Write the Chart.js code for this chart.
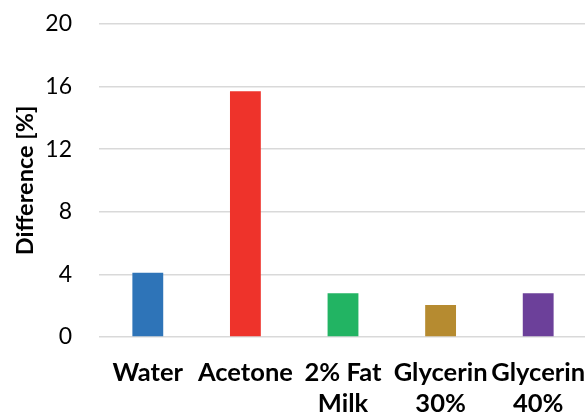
<!DOCTYPE html>
<html>
<head>
<meta charset="utf-8">
<script src="https://cdn.jsdelivr.net/npm/chart.js@4"></script>
<style>
  html, body { margin: 0; padding: 0; background: #fff; overflow: hidden; }
  #wrap { width: 587px; height: 415px; }
</style>
</head>
<body>
<div id="wrap"><canvas id="c" width="587" height="415"></canvas></div>
<script>
const categories = [["Water"], ["Acetone"], ["2% Fat", "Milk"], ["Glycerin", "30%"], ["Glycerin", "40%"]];
const differences = [4.1, 15.7, 2.8, 2.05, 2.8];
const barColors = ["#2e74b8", "#ee332b", "#22b463", "#b68b30", "#6c409a"];
const yTicks = { min: 0, max: 20, step: 4 };

const FONT = "Lato, 'Open Sans', sans-serif";

new Chart(document.getElementById("c"), {
  type: "bar",
  data: {
    labels: categories,
    datasets: [{
      label: "Difference",
      data: differences,
      backgroundColor: barColors,
      borderWidth: 0,
      barPercentage: 0.316,
      categoryPercentage: 1
    }]
  },
  options: {
    responsive: false,
    animation: false,
    layout: { padding: { top: 24, right: 0, bottom: 0, left: 0 } },
    plugins: {
      legend: { display: false },
      title: { display: false },
      tooltip: { enabled: false }
    },
    scales: {
      x: {
        grid: { display: false, drawTicks: false },
        border: { display: false },
        ticks: {
          color: "#000",
          font: { family: FONT, size: 25.5, weight: "bold", lineHeight: 1.22 },
          padding: 20,
          autoSkip: false,
          maxRotation: 0,
          minRotation: 0
        },
        afterFit: s => { s.height = 78; s.paddingLeft = 0; s.paddingRight = 0; }
      },
      y: {
        min: yTicks.min,
        max: yTicks.max,
        grid: { color: "#d9d9d9", lineWidth: 1.5, drawTicks: false },
        border: { display: false },
        ticks: {
          stepSize: yTicks.step,
          color: "#000",
          font: { family: FONT, size: 23 },
          padding: 27
        },
        title: {
          display: true,
          text: "Difference [%]",
          color: "#000",
          font: { family: FONT, size: 23.5, weight: "bold" },
          padding: { top: 11, bottom: 0 }
        },
        afterFit: s => { s.width = 99; s.paddingTop = 0; s.paddingBottom = 0; }
      }
    }
  }
});
</script>
</body>
</html>
